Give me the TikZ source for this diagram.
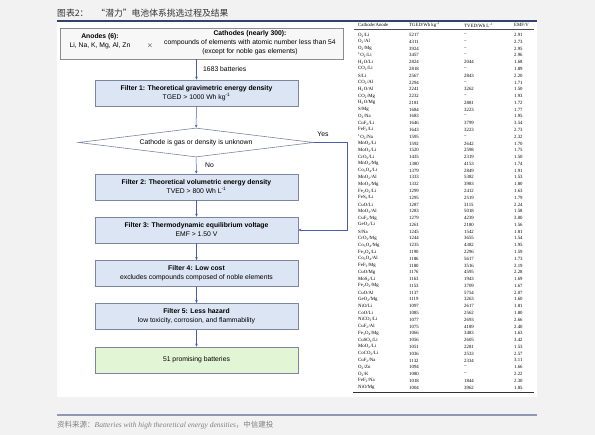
\documentclass[tikz,border=0pt]{standalone}
\usepackage{fontspec}
\setmainfont{Liberation Serif}
\setsansfont{Liberation Sans}
\newfontfamily\cjk{Noto Sans CJK SC}
\usetikzlibrary{shapes.geometric}
\usetikzlibrary{arrows.meta}

\definecolor{pagebg}{HTML}{F2F2F2}
\definecolor{titlerule}{HTML}{34426E}
\definecolor{footrule}{HTML}{9098B4}
\definecolor{boxline}{HTML}{7C86A0}
\definecolor{filterfill}{HTML}{DCE5F4}
\definecolor{resultfill}{HTML}{E2F6D6}
\definecolor{flowblue}{HTML}{4A5DAE}
\definecolor{srcfill}{HTML}{F7F7F7}

\tikzset{
  filter/.style={draw=boxline, fill=filterfill, line width=0.6pt, minimum width=203pt,
    minimum height=26pt, inner sep=0pt, align=center, font=\sffamily\fontsize{6.8}{8.9}\selectfont},
  flow/.style={draw=flowblue, line width=0.5pt, -{Stealth[length=3pt,width=2.6pt]}},
  lbl/.style={inner sep=0pt, font=\sffamily\fontsize{6.8}{9}\selectfont},
  cell/.style={anchor=west, inner sep=0pt, font=\fontsize{4.8}{5}\selectfont},
}

\begin{document}
\begin{tikzpicture}[x=1pt,y=-1pt]
\useasboundingbox (0,0) rectangle (595,435);
\fill[pagebg] (0,0) rectangle (595,435);
\fill[white] (57,22) rectangle (537,397);

% title and source
\node[anchor=west, inner sep=0pt, text=black!80, font=\cjk\fontsize{8.8}{10}\selectfont] (title) at (57,13)
  {图表2：\hspace{8pt}“潜力”电池体系挑选过程及结果};
\draw[titlerule, line width=1.6pt] (57,21) -- (537,21);
\draw[footrule, line width=1.2pt] (57,415) -- (537,415);
\node[anchor=west, inner sep=0pt, text=black!50, font=\fontsize{7.5}{8}\selectfont] (source) at (57,425)
  {{\cjk 资料来源：}\textit{Batteries with high theoretical energy densities}{\cjk ，中信建投}};

% screening flow
\node[draw=black!45, fill=srcfill, line width=0.6pt, minimum width=283pt, minimum height=31pt] (pool) at (201.5,43.5) {};
\node[lbl, align=center] (anodes) at (100,41.5) {\textbf{Anodes (6):}\\Li, Na, K, Mg, Al, Zn};
\node[lbl] (times) at (150,46) {$\times$};
\node[lbl, align=center] (cathodes) at (250,43) {\textbf{Cathodes (nearly 300):}\\compounds of elements with atomic number less than 54\\(except for noble gas elements)};

\node[filter] (f1) at (196.5,93) {\textbf{Filter 1: Theoretical gravimetric energy density}\\TGED > 1000 Wh kg\textsuperscript{-1}};
\node[draw=boxline, fill=white, line width=0.6pt, diamond, aspect=8.1, inner sep=0pt,
  minimum width=235pt, minimum height=29pt, font=\sffamily\fontsize{6.8}{9}\selectfont] (gas) at (196,142.5)
  {Cathode is gas or density is unknown};
\node[filter] (f2) at (196.5,187) {\textbf{Filter 2: Theoretical volumetric energy density}\\TVED > 800 Wh L\textsuperscript{-1}};
\node[filter] (f3) at (196.5,230) {\textbf{Filter 3: Thermodynamic equilibrium voltage}\\EMF > 1.50 V};
\node[filter] (f4) at (196.5,273.5) {\textbf{Filter 4: Low cost}\\excludes compounds composed of noble elements};
\node[filter] (f5) at (196.5,316.5) {\textbf{Filter 5: Less hazard}\\low toxicity, corrosion, and flammability};
\node[filter, fill=resultfill] (final) at (196.5,360) {51 promising batteries};

\draw[flow] (pool.south -| f1.north) -- (f1.north);
\node[lbl, anchor=west] (n1683) at (203,69) {1683 batteries};
\draw[flow] (f1) -- (gas);
\draw[flow] (gas) -- (f2);
\node[lbl, anchor=west] (no) at (205,165) {No};
\draw[flow] (gas.east) -- ++(33,0) |- (f3.east);
\node[lbl] (yes) at (323,134) {Yes};
\draw[flow] (f2) -- (f3);
\draw[flow] (f3) -- (f4);
\draw[flow] (f4) -- (f5);
\draw[flow] (f5) -- (final);

% results table
\draw[black!70, line width=0.4pt] (354,29.5) -- (534,29.5);
\draw[black!80, line width=1pt] (353,393) -- (534,393);
\node[cell] (h1) at (358,25) {Cathode/Anode};
\node[cell] (h2) at (409,25) {TGED/Wh kg\textsuperscript{\textendash1}};
\node[cell] (h3) at (464,25) {TVED/Wh L\textsuperscript{\textendash1}};
\node[cell] (h4) at (514,25) {EMF/V};
\foreach \cat/\an/\tg/\tv/\emf [count=\i from 0] in {
  O\textsubscript{2}/Li/5217/\textendash/2.91,
  O\textsubscript{2}/Al/4311/\textendash/2.73,
  O\textsubscript{2}/Mg/3924/\textendash/2.95,
  \textsuperscript{1}O\textsubscript{2}/Li/3457/\textendash/2.96,
  H\textsubscript{2}O/Li/2824/2044/1.68,
  CO\textsubscript{2}/Li/2818/\textendash/1.89,
  S/Li/2567/2843/2.20,
  CO\textsubscript{2}/Al/2294/\textendash/1.71,
  H\textsubscript{2}O/Al/2241/3262/1.50,
  CO\textsubscript{2}/Mg/2232/\textendash/1.93,
  H\textsubscript{2}O/Mg/2181/2881/1.72,
  S/Mg/1684/3223/1.77,
  O\textsubscript{2}/Na/1683/\textendash/1.95,
  CuF\textsubscript{2}/Li/1646/3799/3.54,
  FeF\textsubscript{3}/Li/1643/3223/2.73,
  \textsuperscript{1}O\textsubscript{2}/Na/1595/\textendash/2.32,
  MnO\textsubscript{2}/Li/1592/2642/1.70,
  MoO\textsubscript{3}/Li/1520/2598/1.75,
  CrO\textsubscript{3}/Li/1435/2319/1.50,
  MnO\textsubscript{2}/Mg/1380/4153/1.74,
  Co\textsubscript{3}O\textsubscript{4}/Li/1379/2849/1.91,
  MnO\textsubscript{2}/Al/1333/5382/1.53,
  MoO\textsubscript{3}/Mg/1332/3983/1.80,
  Fe\textsubscript{2}O\textsubscript{3}/Li/1299/2412/1.63,
  FeS\textsubscript{2}/Li/1295/2519/1.79,
  CuO/Li/1287/3115/2.24,
  MoO\textsubscript{3}/Al/1283/5018/1.58,
  CuF\textsubscript{2}/Mg/1279/4239/3.00,
  GeO\textsubscript{2}/Li/1261/2180/1.56,
  S/Na/1245/1542/1.81,
  CrO\textsubscript{3}/Mg/1244/3655/1.54,
  Co\textsubscript{3}O\textsubscript{4}/Mg/1235/4382/1.95,
  Fe\textsubscript{3}O\textsubscript{4}/Li/1190/2296/1.59,
  Co\textsubscript{3}O\textsubscript{4}/Al/1186/5617/1.73,
  FeF\textsubscript{3}/Mg/1180/3516/2.19,
  CuO/Mg/1176/4595/2.28,
  MoS\textsubscript{2}/Li/1163/1943/1.69,
  Fe\textsubscript{2}O\textsubscript{3}/Mg/1153/3709/1.67,
  CuO/Al/1137/5754/2.07,
  GeO\textsubscript{2}/Mg/1119/3263/1.60,
  NiO/Li/1097/2617/1.81,
  CoO/Li/1085/2562/1.80,
  NiCO\textsubscript{3}/Li/1077/2693/2.66,
  CuF\textsubscript{2}/Al/1075/4189/2.40,
  Fe\textsubscript{3}O\textsubscript{4}/Mg/1066/3483/1.63,
  CuSO\textsubscript{4}/Li/1056/2605/3.42,
  MoO\textsubscript{2}/Li/1051/2281/1.53,
  CoCO\textsubscript{3}/Li/1036/2533/2.57,
  CuF\textsubscript{2}/Na/1132/2334/3.11,
  O\textsubscript{2}/Zn/1094/\textendash/1.66,
  O\textsubscript{2}/K/1080/\textendash/2.22,
  FeF\textsubscript{3}/Na/1018/1844/2.30,
  NiO/Mg/1004/3962/1.85} {
  \node[cell] (cat\i) at (358,35+\i*6.78) {\cat/\an};
  \node[cell] (tged\i) at (409,35+\i*6.78) {\tg};
  \node[cell] (tved\i) at (464,35+\i*6.78) {\tv};
  \node[cell] (emf\i) at (514,35+\i*6.78) {\emf};
}
\end{tikzpicture}
\end{document}
